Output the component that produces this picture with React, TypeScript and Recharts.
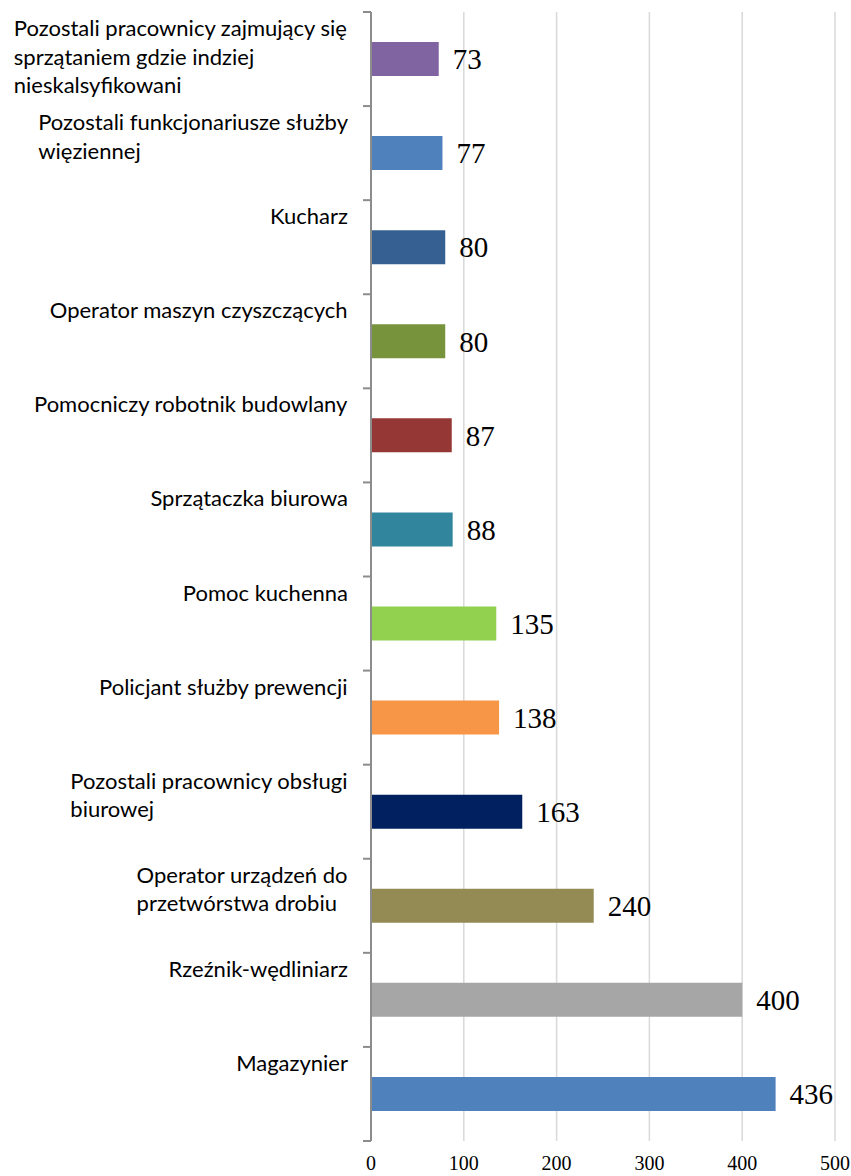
import React from "react";
import { BarChart, Bar, XAxis, YAxis, CartesianGrid, Cell, LabelList } from "recharts";

const CATEGORIES: string[] = [
  "Pozostali pracownicy zajmujący się\nsprzątaniem gdzie indziej\nnieskalsyfikowani",
  "Pozostali funkcjonariusze służby\nwięziennej",
  "Kucharz",
  "Operator maszyn czyszczących",
  "Pomocniczy robotnik budowlany",
  "Sprzątaczka biurowa",
  "Pomoc kuchenna",
  "Policjant służby prewencji",
  "Pozostali pracownicy obsługi\nbiurowej",
  "Operator urządzeń do\nprzetwórstwa drobiu",
  "Rzeźnik-wędliniarz",
  "Magazynier",
];
const VALUES: number[] = [73, 77, 80, 80, 87, 88, 135, 138, 163, 240, 400, 436];
const COLORS: string[] = [
  "#8064A2", "#4F81BD", "#376092", "#77933C", "#953735", "#31859C",
  "#92D050", "#F79646", "#002060", "#948A54", "#A6A6A6", "#4F81BD",
];
const X_TICKS: number[] = [0, 100, 200, 300, 400, 500];

const data = CATEGORIES.map((name, i) => ({ name, value: VALUES[i] }));

const W = 851;
const H = 1176;
const TOP = 12;
const BOTTOM = 5;
const X_AXIS_H = 30;
const AXIS_W = 371;
const RIGHT = 16;
const BAND = (H - TOP - BOTTOM - X_AXIS_H) / CATEGORIES.length;

const LABEL_FONT = "Lato";
const LABEL_FS = 22;
const SERIF = '"Liberation Serif", "Times New Roman", serif';

let ctx: CanvasRenderingContext2D | null = null;
const measure = (s: string) => {
  if (!ctx) ctx = document.createElement("canvas").getContext("2d");
  if (!ctx) return s.length * LABEL_FS * 0.5;
  ctx.font = `${LABEL_FS}px ${LABEL_FONT}`;
  return ctx.measureText(s).width;
};

const CategoryTick = (props: any) => {
  const { y, payload, index } = props;
  const lines: string[] = String(payload.value).split("\n");
  const blockW = Math.max(...lines.map(measure));
  const right = AXIS_W - 23;
  const left = right - blockW;
  const top = y - BAND / 2;
  return (
    <g>
      <line x1={AXIS_W - 8} x2={AXIS_W} y1={top} y2={top} stroke="#8c8c8c" strokeWidth={2} />
      {index === CATEGORIES.length - 1 && (
        <line x1={AXIS_W - 8} x2={AXIS_W} y1={top + BAND} y2={top + BAND} stroke="#8c8c8c" strokeWidth={2} />
      )}
      <text x={left} y={top + 24} fontFamily={LABEL_FONT} fontSize={LABEL_FS} fill="#000" textAnchor="start">
        {lines.map((l, i) => (
          <tspan key={i} x={left} dy={i === 0 ? 0 : 28.5}>
            {l}
          </tspan>
        ))}
      </text>
    </g>
  );
};

export default function App() {
  return (
    <div style={{ position: "absolute", left: 0, top: 0, width: W, height: H, background: "#fff" }}>
      <BarChart
        width={W}
        height={H}
        data={data}
        layout="vertical"
        margin={{ top: TOP, right: RIGHT, bottom: BOTTOM, left: 0 }}
        barSize={34}
      >
        <CartesianGrid horizontal={false} stroke="#d9d9d9" strokeWidth={1.5} />
        <XAxis
          type="number"
          domain={[0, 500]}
          ticks={X_TICKS}
          height={X_AXIS_H}
          axisLine={false}
          tickLine={false}
          tickSize={0}
          tickMargin={15}
          tick={{ fill: "#000", fontSize: 20, fontFamily: SERIF }}
        />
        <YAxis
          type="category"
          dataKey="name"
          width={AXIS_W}
          axisLine={{ stroke: "#8c8c8c", strokeWidth: 2 }}
          tickLine={false}
          tick={<CategoryTick />}
          interval={0}
        />
        <Bar dataKey="value" isAnimationActive={false}>
          {data.map((d, i) => (
            <Cell key={i} fill={COLORS[i]} />
          ))}
          <LabelList
            dataKey="value"
            position="right"
            offset={14}
            fill="#000"
            fontSize={29}
            fontFamily={SERIF}
          />
        </Bar>
      </BarChart>
    </div>
  );
}
